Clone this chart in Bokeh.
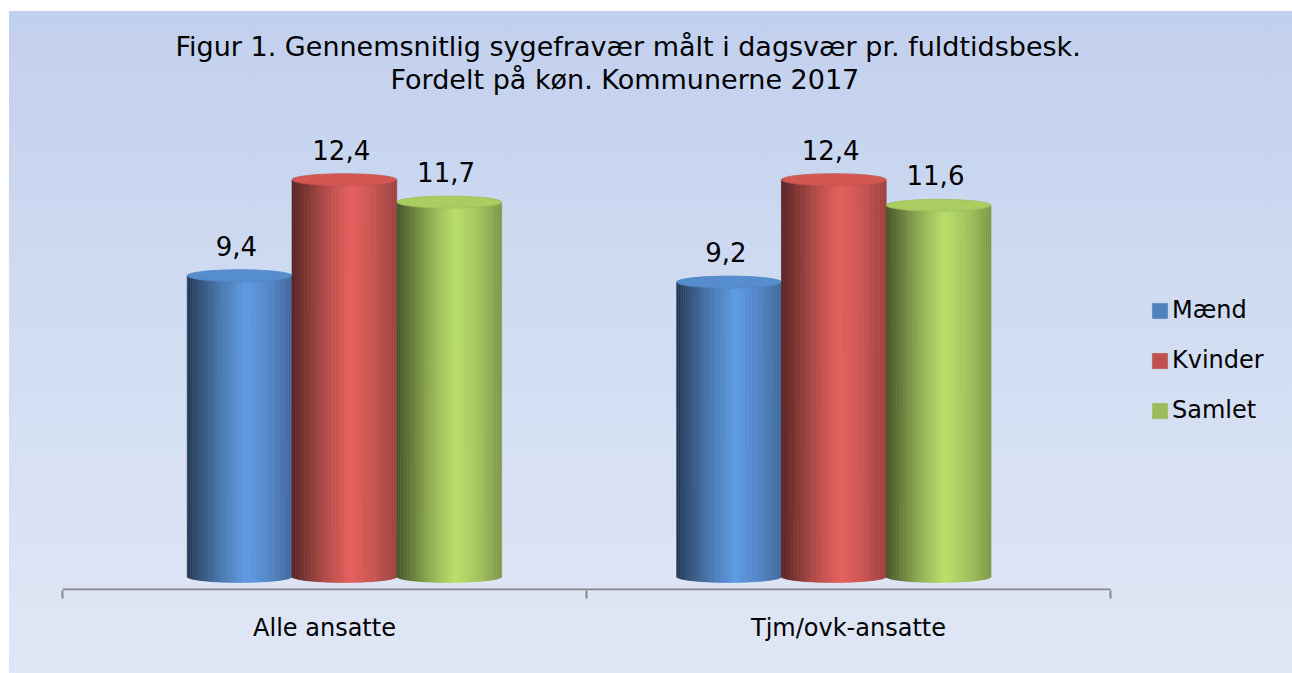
import numpy as np
from bokeh.plotting import figure
from bokeh.models import Range1d, FixedTicker, Legend, LegendItem, Title, ColumnDataSource
from bokeh.core.properties import value
from bokeh.embed import file_html
from bokeh.resources import INLINE

# ---------------- data ----------------
categories = ["Alle ansatte", "Tjm/ovk-ansatte"]
series_names = ["Mænd", "Kvinder", "Samlet"]
maend = [9.4, 9.2]
kvinder = [12.4, 12.4]
samlet = [11.7, 11.6]
series_values = [maend, kvinder, samlet]
series_colors = ["#4f81bd", "#c0504d", "#9bbb59"]
title_line1 = "Figur 1. Gennemsnitlig sygefravær målt i dagsvær pr. fuldtidsbesk."
title_line2 = "Fordelt på køn. Kommunerne 2017"

# ---------------- style ----------------
W, H = 1292, 673
BL, BR, BT, BB = 62, 0, 94, 83
axis_px = 1048                      # pixel length of the category axis
frame_w = W - BL - BR
frame_h = H - BT - BB
px_per_unit = 32.0
y0 = -14 / px_per_unit
y1 = y0 + frame_h / px_per_unit
x_end = len(categories) * frame_w / axis_px
bar_w = 0.2
dodge = [-0.2, 0.0, 0.2]
depth_shift = [0.038, -0.028]       # 3D perspective shift per category
ell_h = 12                          # ellipse height in px
n_strips = 60
FONT = "DejaVu Sans"
AXIS_COLOR = "#868686"

def scale(hexc, f):
    c = np.array([int(hexc[1:3], 16), int(hexc[3:5], 16), int(hexc[5:7], 16)], dtype=float)
    c = np.clip(c * f, 0, 255).astype(int)
    return "#%02x%02x%02x" % tuple(c)

shade_t = [0.0, 0.1, 0.3, 0.38, 0.56, 0.78, 1.0]
shade_f = [0.45, 0.6, 0.9, 1.0, 1.2, 1.05, 0.82]

p = figure(width=W, height=H, output_backend="svg", toolbar_location=None,
           x_range=Range1d(0, x_end), y_range=Range1d(y0, y1),
           min_border_left=BL, min_border_right=BR, min_border_top=BT, min_border_bottom=BB)
p.border_fill_color = None
p.background_fill_color = None
p.outline_line_color = None
p.styles = {"background": "linear-gradient(180deg, #c1d0ee 0%, #d2ddf2 50%, #e0e7f6 100%) "
                          "9px 11px / calc(100% - 9px) calc(100% - 11px) no-repeat, #ffffff"}
p.grid.visible = False
p.yaxis.visible = False

# bars as shaded cylinders (one strip renderer per series)
ell_dy = (ell_h / 2) / px_per_unit
t = (np.arange(n_strips) + 0.5) / n_strips
u = 2 * t - 1
fac = np.interp(t, shade_t, shade_f)
legend_index = int(np.argmin(np.abs(fac - 1.0)))
strip_renderers = []
for si, vals in enumerate(series_values):
    L, R, B, T, C = [], [], [], [], []
    for ci in range(len(categories)):
        xc = ci + 0.5 + dodge[si] + depth_shift[ci]
        left = xc - bar_w / 2
        lefts = left + np.arange(n_strips) * bar_w / n_strips
        L += list(lefts)
        R += list(lefts + bar_w / n_strips)
        B += list(-ell_dy * np.sqrt(np.clip(1 - u ** 2, 0, 1)))
        T += [vals[ci]] * n_strips
        C += [scale(series_colors[si], float(f)) for f in fac]
    src = ColumnDataSource(dict(left=L, right=R, bottom=B, top=T, color=C))
    r = p.quad(left="left", right="right", bottom="bottom", top="top", fill_color="color",
               line_color="color", line_width=0.6, source=src)
    strip_renderers.append(r)
    xcs = [ci + 0.5 + dodge[si] + depth_shift[ci] for ci in range(len(categories))]
    p.ellipse(x=xcs, y=vals, width=bar_w, height=ell_h, height_units="screen",
              fill_color=scale(series_colors[si], 1.1), line_color=scale(series_colors[si], 1.02),
              line_width=0.8)

# value labels
lx, ly, lt = [], [], []
for ci in range(len(categories)):
    for si, vals in enumerate(series_values):
        lx.append(ci + 0.5 + dodge[si] + depth_shift[ci] - 0.006)
        ly.append(vals[ci])
        lt.append(("%.1f" % vals[ci]).replace(".", ","))
p.text(x=lx, y=ly, text=lt, text_align="center", text_baseline="alphabetic", y_offset=-30,
       text_font=value(FONT), text_font_size="26px", text_color="#000000")

# category axis line (only as long as the categories)
p.segment(x0=[0], y0=[y0 + 1 / px_per_unit], x1=[len(categories)], y1=[y0 + 1 / px_per_unit],
          line_color=AXIS_COLOR, line_width=2)

# x axis: labels at centers, ticks at category boundaries
ax = p.xaxis[0]
ax.ticker = FixedTicker(ticks=[i + 0.5 for i in range(len(categories))],
                        minor_ticks=list(range(len(categories) + 1)))
ax.major_label_overrides = {i + 0.5: c for i, c in enumerate(categories)}
ax.major_tick_line_color = None
ax.major_tick_out = 0
ax.major_tick_in = 0
ax.minor_tick_out = 8
ax.minor_tick_in = 0
ax.minor_tick_line_color = AXIS_COLOR
ax.minor_tick_line_width = 2
ax.axis_line_color = None
ax.major_label_text_font = FONT
ax.major_label_text_font_size = "24px"
ax.major_label_text_color = "#000000"
ax.major_label_standoff = 15

# legend (linked to the bar renderers)
items = [LegendItem(label=name, renderers=[r], index=legend_index)
         for name, r in zip(series_names, strip_renderers)]
legend = Legend(items=items, location=(1088, 165), glyph_width=19, glyph_height=19,
                label_height=30, spacing=20, label_standoff=3, padding=10, margin=0,
                background_fill_alpha=0, border_line_color=None,
                label_text_font=FONT, label_text_font_size="24px", label_text_color="#000000")
p.add_layout(legend, "center")

# title (two centred lines)
p.add_layout(Title(text=title_line2, align="left", offset=328, standoff=0,
                   text_font=FONT, text_font_size="27px", text_font_style="normal",
                   text_color="#000000"), "above")
p.add_layout(Title(text=title_line1, align="left", offset=113, standoff=0,
                   text_font=FONT, text_font_size="27px", text_font_style="normal",
                   text_color="#000000"), "above")

open("out.html", "w").write(file_html(p, INLINE))
